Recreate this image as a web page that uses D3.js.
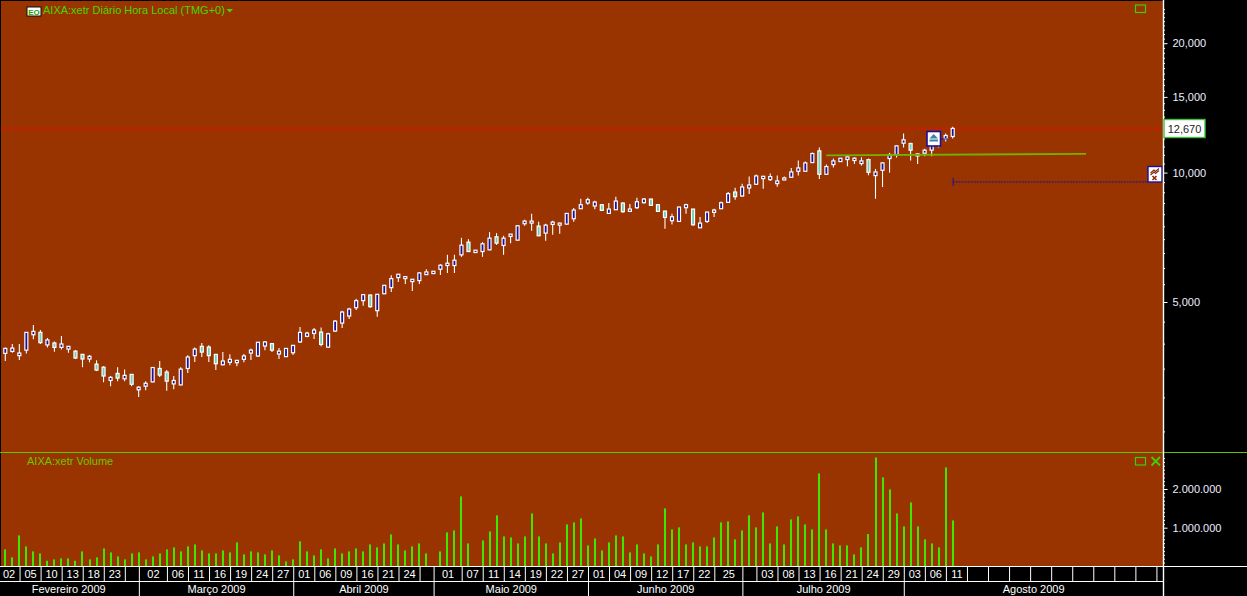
<!DOCTYPE html>
<html><head><meta charset="utf-8">
<script src="https://cdn.jsdelivr.net/npm/d3@7/dist/d3.min.js"></script>
<style>
html,body{margin:0;padding:0;background:#000;overflow:hidden}
text{font-family:"Liberation Sans",Arial,sans-serif;font-size:11px}
</style></head><body><svg id="c" width="1247" height="596"></svg>
<script>
const highs=[3921,3993,3993,4249,4423,4303,4124,4044,4167,3950,
3863,3784,3764,3658,3545,3363,3526,3484,3399,3185,
3272,3526,3645,3472,3363,3526,3757,3921,4015,3964,
3784,3823,3777,3658,3784,3899,4037,4059,4015,3906,
3906,3964,4375,4264,4351,4364,4240,4539,4773,4850,
5090,5220,5201,5220,5478,5770,5811,5749,5657,5874,
5959,5906,6122,6436,6436,7052,7001,6599,6890,7270,
7231,7128,7192,7548,7768,8022,7685,7603,7726,7644,
8051,8270,8696,8743,8602,8450,8495,8790,8526,8450,
8743,8727,8680,8450,8153,8022,8330,8465,8226,7880,
8109,8241,8571,9013,9226,9426,9787,9893,9823,9946,
9841,9787,10253,10666,10609,11135,11440,10439,10780,10820,
10917,10858,10858,10781,10199,10570,11115,11561,12332,11727,
11075,11356,11623,11950,12332,12781];
const bodyTops=[3899,3906,3804,4249,4272,4249,4080,4015,3993,3943,
3843,3777,3738,3585,3526,3339,3411,3375,3393,3168,
3235,3520,3502,3435,3284,3490,3724,3885,3943,3928,
3777,3645,3678,3658,3744,3863,4030,4037,4001,3843,
3899,3964,4249,4233,4303,4256,4217,4514,4738,4815,
5036,5201,5191,5210,5468,5667,5801,5728,5647,5842,
5874,5895,6089,6154,6254,6780,6890,6599,6828,7039,
7090,7039,7192,7521,7713,7713,7508,7548,7671,7630,
8036,8182,8420,8649,8541,8420,8226,8587,8495,8226,
8556,8680,8680,8420,8139,7894,8315,8420,8226,7630,
8094,8182,8510,8933,9013,9259,9359,9823,9805,9787,
9563,9718,10036,10253,10533,11075,11236,10328,10647,10800,
10878,10800,10647,10723,10035,10532,11016,11540,11918,11686,
11055,11275,11561,11830,12199,12670];
const bodyBottoms=[3797,3837,3751,3863,4196,4022,3972,3921,3921,3885,
3704,3684,3684,3472,3363,3284,3326,3314,3218,3124,
3185,3259,3381,3272,3224,3207,3502,3751,3823,3751,
3592,3572,3619,3612,3678,3804,3744,3950,3863,3784,
3731,3810,4037,4160,4225,3983,3926,4279,4466,4638,
4850,5036,4876,4773,5226,5400,5698,5667,5577,5607,
5790,5822,5959,6078,6078,6436,6552,6517,6552,6611,
6853,6768,7103,6964,7603,7630,7128,7231,7576,7548,
7589,7810,8241,8495,8360,8168,8036,8197,8109,8124,
8286,8510,8390,8124,7866,7727,7699,8286,7562,7441,
7699,8080,8241,8526,8790,8822,9209,9393,9683,9631,
9426,9614,9753,10072,10072,10552,9911,9911,10439,10608,
10723,10666,10495,10017,9839,10125,10781,11016,11706,11275,
10937,11095,11275,11561,11983,12134];
const lows=[3645,3810,3665,3797,4095,3993,3921,3830,3878,3810,
3684,3526,3619,3453,3253,3185,3272,3272,3185,3004,
3118,3253,3345,3108,3135,3201,3417,3625,3724,3625,
3472,3565,3565,3545,3619,3665,3724,3863,3823,3684,
3724,3764,4015,4138,4102,3947,3919,4256,4348,4563,
4790,4903,4850,4621,5217,5274,5567,5507,5303,5507,
5780,5811,5780,5842,5842,6368,6541,6505,6368,6599,
6792,6436,6853,6939,7521,7322,7116,6939,7167,7205,
7562,7685,8226,8420,8212,8139,8022,8182,8065,8109,
8226,8480,8375,8109,7401,7576,7685,8022,7522,7428,
7630,7880,8226,8495,8649,8790,8917,9376,9176,9563,
9276,9597,9735,9841,10054,10533,9666,9893,10272,10608,
10346,10476,10383,9857,8695,9257,9999,10838,11438,10666,
10476,10917,10917,11438,11807,12010];
const fallingSessions=[5,7,10,11,13,14,16,18,22,23,28,29,30,38,45,52,66,70,76,85,88,92,93,94,98,104,116,123,129];
const volumes=[439000,233000,801000,517000,388000,336000,146000,181000,207000,207000,
146000,388000,181000,233000,465000,362000,258000,181000,336000,362000,
181000,258000,336000,439000,491000,388000,517000,568000,413000,336000,
336000,413000,362000,620000,310000,388000,362000,310000,413000,284000,
129000,181000,646000,388000,284000,439000,207000,465000,336000,388000,
465000,388000,568000,491000,594000,827000,568000,413000,517000,594000,
336000,0,388000,879000,930000,1809000,594000,0,672000,904000,
1318000,775000,749000,594000,775000,1369000,775000,594000,336000,620000,
1085000,1137000,1240000,543000,723000,413000,620000,801000,775000,362000,
568000,336000,258000,568000,1499000,956000,1008000,568000,620000,517000,
517000,749000,1137000,1163000,698000,930000,1318000,1008000,1395000,594000,
1034000,568000,1214000,1292000,1085000,956000,2403000,956000,594000,543000,
543000,310000,491000,835000,2816000,2300000,1990000,1369000,1034000,1654000,
1034000,698000,594000,491000,2558000,1189000];
const dayLabels=['02','05','10','13','18','23','','02','06','11','16','19','24','27','01','06','09','16','21','24','','01','07','11','14','19','22','27','01','04','09','12','17','22','25','','03','08','13','16','21','24','29','03','06','11','','','','','','','','','','',''];
const dayStartBars=[0,3,6,9,12,15,18,20,24,27,30,33,36,39,42,45,48,51,54,57,60,62,66,69,72,75,78,81,84,87,90,93,96,99,102,106,108,111,114,117,120,123,126,129,132,135,138,141,144,147,150,153,156,159,162,165];
const monthLabels=['Fevereiro 2009','Março 2009','Abril 2009','Maio 2009','Junho 2009','Julho 2009','Agosto 2009'];
const monthStartBars=[0,20,42,62,84,106,129];
const priceTicks=[5000,10000,15000,20000];
const volumeTicks=[1000000,2000000];
const lastPrice=12670;
const supportBars=[117,154],supportPrices=[10970,11055];
const targetBar=135,targetPrice=9512;
const titleText='AIXA:xetr Diário Hora Local (TMG+0)',volumeTitle='AIXA:xetr Volume';

const W=1247,H=596,plotR=1163,divY=452.5,baseY=566.5,rowY=581.5;
const GREEN='#45d800',BG='#993300';
const svg=d3.select('#c');
const x=d3.scaleLinear().domain([0,135]).range([5.3,952.7]);
const y=d3.scaleLog().domain([5000,20000]).range([302,43.2]);
const v=d3.scaleLinear().domain([0,2000000]).range([566.4,489]);
const cellEdge=b=>b===0?-2:x(b)-6.3;
const falling=new Set(fallingSessions);

svg.append('rect').attr('width',W).attr('height',H).attr('fill','#000');
svg.append('rect').attr('x',1).attr('y',1).attr('width',plotR-1).attr('height',baseY-1).attr('fill',BG);

// last price line
svg.append('line').attr('x1',1).attr('x2',plotR).attr('y1',y(lastPrice)).attr('y2',y(lastPrice)).attr('stroke','#bd2300').attr('stroke-width',2.4);

// candles
const idx=d3.range(highs.length);
const g=svg.append('g');
g.selectAll('line.w').data(idx).join('line').attr('class','w')
 .attr('x1',i=>x(i)).attr('x2',i=>x(i)).attr('y1',i=>y(highs[i])).attr('y2',i=>y(lows[i]))
 .attr('stroke','#fff').attr('stroke-width',1.1);
g.selectAll('rect').data(idx).join('rect')
 .attr('x',i=>x(i)-1.5).attr('width',3)
 .attr('y',i=>y(bodyTops[i])).attr('height',i=>Math.max(1.5,y(bodyBottoms[i])-y(bodyTops[i])))
 .attr('fill',i=>falling.has(i)?'#6fcdb8':'#1c0f9c').attr('stroke','#fff').attr('stroke-width',1.2);

// support trend line
svg.append('line').attr('x1',x(supportBars[0])).attr('x2',x(supportBars[1]))
 .attr('y1',y(supportPrices[0])).attr('y2',y(supportPrices[1])).attr('stroke','#73b000').attr('stroke-width',1.8);

// target dashed line
svg.append('line').attr('x1',x(targetBar)).attr('x2',1148).attr('y1',y(targetPrice)).attr('y2',y(targetPrice))
 .attr('stroke','#1c0fa0').attr('stroke-width',1).attr('stroke-dasharray','2,1');
svg.append('line').attr('x1',x(targetBar)+.5).attr('x2',x(targetBar)+.5).attr('y1',y(targetPrice)-4).attr('y2',y(targetPrice)+4).attr('stroke','#1c0fa0');

// pattern marker on the candles
svg.append('line').attr('x1',940).attr('x2',948).attr('y1',139).attr('y2',139).attr('stroke','#1c0f9c');
svg.append('rect').attr('x',927).attr('y',131.5).attr('width',13.5).attr('height',14.5).attr('fill','#fff').attr('stroke','#1c0f9c').attr('stroke-width',1.6);
svg.append('path').attr('d','M929.5 138.5L933.7 134L938 138.5Z').attr('fill','#3f7fa8');
svg.append('rect').attr('x',929.5).attr('y',139.5).attr('width',8.5).attr('height',2).attr('fill','#3f7fa8');
// scissors marker at right
svg.append('rect').attr('x',1148).attr('y',166.5).attr('width',14).attr('height',15.5).attr('fill','#fff').attr('stroke','#1c0f9c').attr('stroke-width',1.4);
svg.append('path').attr('d','M1150.5 173L1154 170L1155.5 171.5L1159 168.5M1150.5 175L1154 172L1155.5 173.5L1159 170.5').attr('fill','none').attr('stroke','#8a2a10').attr('stroke-width',1.1);
svg.append('path').attr('d','M1152.5 176L1156.5 180M1156.5 176L1152.5 180').attr('fill','none').attr('stroke','#8a2a10').attr('stroke-width',1.6);

// volume bars
svg.append('g').selectAll('rect').data(idx.filter(i=>volumes[i]>0)).join('rect')
 .attr('x',i=>Math.round(x(i))-1).attr('width',2).attr('y',i=>v(volumes[i])).attr('height',i=>v(0)-v(volumes[i]))
 .attr('fill','#3ee600');

// divider
svg.append('line').attr('x1',0).attr('x2',W).attr('y1',divY).attr('y2',divY).attr('stroke','#55c800');

// axes
function styleAxis(a){a.select('.domain').remove();a.selectAll('line').attr('stroke','#fff');a.selectAll('text').attr('fill','#eef').attr('x',9).attr('dy','0.34em');}
const minor=[];for(let p=500;p<=24000;p+=500){if(y(p)>=1&&y(p)<=divY&&!priceTicks.includes(p))minor.push(p);}
svg.append('g').attr('transform',`translate(${plotR+.5},0)`).call(d3.axisRight(y).tickValues(minor).tickSize(1.5).tickFormat('')).call(a=>{a.select('.domain').remove();a.selectAll('line').attr('stroke','#fff');});
svg.append('g').attr('transform',`translate(${plotR+.5},0)`).call(d3.axisRight(y).tickValues(priceTicks).tickSize(4).tickFormat(d3.format(','))).call(styleAxis);
const minorV=[];for(let p=100000;p<=2800000;p+=100000){if(!volumeTicks.includes(p))minorV.push(p);}
svg.append('g').attr('transform',`translate(${plotR+.5},0)`).call(d3.axisRight(v).tickValues(minorV).tickSize(1.5).tickFormat('')).call(a=>{a.select('.domain').remove();a.selectAll('line').attr('stroke','#fff');});
svg.append('g').attr('transform',`translate(${plotR+.5},0)`).call(d3.axisRight(v).tickValues(volumeTicks).tickSize(4).tickFormat(d=>d3.format(',')(d).replace(/,/g,'.'))).call(styleAxis);
svg.append('line').attr('x1',plotR+.5).attr('x2',plotR+.5).attr('y1',0).attr('y2',H).attr('stroke','#fff').attr('stroke-width',1.4);

// date axis
svg.append('line').attr('x1',0).attr('x2',W).attr('y1',baseY).attr('y2',baseY).attr('stroke','#fff');
svg.append('line').attr('x1',0).attr('x2',plotR).attr('y1',rowY).attr('y2',rowY).attr('stroke','#fff');
dayStartBars.forEach((b,i)=>{
  const x0=cellEdge(b),x1=i+1<dayStartBars.length?cellEdge(dayStartBars[i+1]):plotR;
  if(b>0)svg.append('line').attr('x1',x0).attr('x2',x0).attr('y1',baseY).attr('y2',rowY).attr('stroke','#fff');
  if(dayLabels[i])svg.append('text').attr('x',(x0+x1)/2).attr('y',578).attr('text-anchor','middle').attr('fill','#fff').text(dayLabels[i]);
});
monthStartBars.forEach((b,i)=>{
  const x0=cellEdge(b),x1=i+1<monthStartBars.length?cellEdge(monthStartBars[i+1]):plotR;
  if(b>0)svg.append('line').attr('x1',x0).attr('x2',x0).attr('y1',rowY).attr('y2',H).attr('stroke','#fff');
  svg.append('text').attr('x',(x0+x1)/2).attr('y',593).attr('text-anchor','middle').attr('fill','#fff').text(monthLabels[i]);
});

// price tag
svg.append('rect').attr('x',1164).attr('y',119.5).attr('width',41).attr('height',18).attr('fill','#fff').attr('stroke','#3fbf3f').attr('stroke-width',1.4);
svg.append('text').attr('x',1184.5).attr('y',132.5).attr('text-anchor','middle').attr('fill','#222').text(d3.format(',')(lastPrice));

// titles and icons
svg.append('text').attr('x',43).attr('y',14).attr('fill',GREEN).text(titleText);
svg.append('text').attr('x',27).attr('y',465).attr('fill','#6ac800').text(volumeTitle);
svg.append('rect').attr('x',27).attr('y',7).attr('width',14).attr('height',9).attr('fill','#fff').attr('stroke','#111');
svg.append('text').attr('x',34).attr('y',15).attr('text-anchor','middle').attr('fill','#2aa000').attr('font-weight','bold').style('font-size','8px').text('EO');
svg.append('path').attr('d','M226.5 9L233 9L229.7 12.5Z').attr('fill',GREEN);
svg.append('rect').attr('x',1135.5).attr('y',5).attr('width',10).attr('height',7.5).attr('fill','none').attr('stroke','#3fd000').attr('stroke-width',1.2);
svg.append('rect').attr('x',1135.5).attr('y',457.5).attr('width',10).attr('height',7.5).attr('fill','none').attr('stroke','#3fd000').attr('stroke-width',1.2);
svg.append('path').attr('d','M1151.5 457L1160 465.5M1160 457L1151.5 465.5').attr('stroke','#3fd000').attr('stroke-width',1.8);
</script></body></html>
